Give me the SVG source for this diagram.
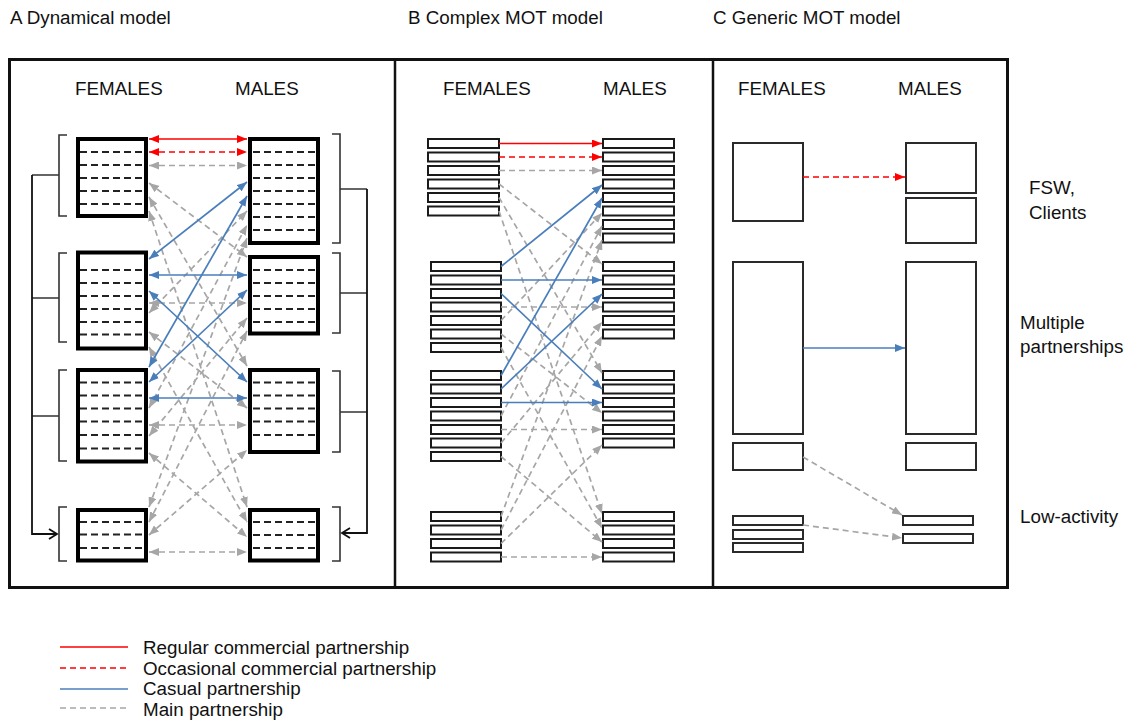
<svg xmlns="http://www.w3.org/2000/svg" width="1127" height="727" viewBox="0 0 1127 727">
<style>
text{font-family:"Liberation Sans",Arial,sans-serif;font-size:18.8px;fill:#111}
.frame{fill:none;stroke:#111;stroke-width:3}
.div{stroke:#111;stroke-width:2.5}
.boxA{fill:#fff;stroke:#000;stroke-width:4}
.dash{stroke:#222;stroke-width:2;stroke-dasharray:7 4}
.bar{fill:#fff;stroke:#1a1a1a;stroke-width:2}
.boxC{fill:#fff;stroke:#2a2a2a;stroke-width:2}
.brk{fill:none;stroke:#333;stroke-width:1.6}
.conn{fill:none;stroke:#111;stroke-width:1.8}
.red{stroke:#f00;stroke-width:1.6;fill:none}
.redd{stroke:#f00;stroke-width:1.6;stroke-dasharray:6 4;fill:none}
.blue{stroke:#4a7ebb;stroke-width:1.7;fill:none}
.gray{stroke:#a6a6a6;stroke-width:1.7;stroke-dasharray:6 4;fill:none}
.A .red,.A .redd{marker-start:url(#mr);marker-end:url(#mr)}
.A .blue{marker-start:url(#mb);marker-end:url(#mb)}
.A .gray{marker-start:url(#mg);marker-end:url(#mg)}
.B .red,.B .redd{marker-end:url(#mr)}
.B .blue{marker-end:url(#mb)}
.B .gray{marker-end:url(#mg)}
</style>
<defs>
<marker id="mr" viewBox="0 0 10 8" refX="10" refY="4" markerWidth="10" markerHeight="8" markerUnits="userSpaceOnUse" orient="auto-start-reverse"><path d="M0,0L10,4L0,8z" fill="#f00"/></marker>
<marker id="mb" viewBox="0 0 10 8" refX="10" refY="4" markerWidth="10" markerHeight="8" markerUnits="userSpaceOnUse" orient="auto-start-reverse"><path d="M0,0L10,4L0,8z" fill="#4a7ebb"/></marker>
<marker id="mg" viewBox="0 0 10 8" refX="10" refY="4" markerWidth="10" markerHeight="8" markerUnits="userSpaceOnUse" orient="auto-start-reverse"><path d="M0,0L10,4L0,8z" fill="#a6a6a6"/></marker>
</defs>
<rect width="1127" height="727" fill="#fff"/>

<g id="titles">
<text x="10" y="24">A Dynamical model</text>
<text x="408" y="24">B Complex MOT model</text>
<text x="713" y="24">C Generic MOT model</text>
</g>

<g id="frame">
<rect class="frame" x="9.5" y="59.5" width="998" height="528"/>
<line class="div" x1="395" y1="59" x2="395" y2="588"/>
<line class="div" x1="713" y1="59" x2="713" y2="588"/>
</g>

<g id="headers">
<text x="75" y="95">FEMALES</text><text x="235" y="95">MALES</text>
<text x="443" y="95">FEMALES</text><text x="603" y="95">MALES</text>
<text x="738" y="95">FEMALES</text><text x="898" y="95">MALES</text>
</g>

<!-- Panel A nodes -->
<g id="A-F1"><rect class="boxA" x="78" y="139" width="68" height="77"/>
<path class="dash" d="M80,152H142M80,165H142M80,178H142M80,191H142M80,204H142"/></g>
<g id="A-F2"><rect class="boxA" x="78" y="252.5" width="68" height="96"/>
<path class="dash" d="M80,270H142M80,283H142M80,296H142M80,309H142M80,322H142M80,334.5H142"/></g>
<g id="A-F3"><rect class="boxA" x="78" y="370" width="68" height="91.5"/>
<path class="dash" d="M80,382.5H142M80,395.5H142M80,408.5H142M80,421.5H142M80,435H142M80,448.5H142"/></g>
<g id="A-F4"><rect class="boxA" x="78" y="510" width="68" height="50.5"/>
<path class="dash" d="M80,522H142M80,534.5H142M80,548H142"/></g>
<g id="A-M1"><rect class="boxA" x="250" y="139" width="68" height="104"/>
<path class="dash" d="M253,152H315M253,165H315M253,178H315M253,191H315M253,204H315M253,217H315M253,230H315"/></g>
<g id="A-M2"><rect class="boxA" x="250" y="257" width="68" height="76.5"/>
<path class="dash" d="M253,270H315M253,283H315M253,296H315M253,309H315M253,322H315"/></g>
<g id="A-M3"><rect class="boxA" x="250" y="370" width="68" height="82"/>
<path class="dash" d="M253,382.5H315M253,395.5H315M253,408.5H315M253,421.5H315M253,435H315"/></g>
<g id="A-M4"><rect class="boxA" x="250" y="510" width="68" height="50.5"/>
<path class="dash" d="M253,522H315M253,535H315M253,548H315"/></g>

<g id="A-brackets">
<path class="brk" d="M67,135H59V216H67M59,175H32"/>
<path class="brk" d="M67,253H59V342H67M59,298H32"/>
<path class="brk" d="M67,370H59V461H67M59,416H32"/>
<path class="brk" d="M67,507H59V561H67"/>
<path class="conn" d="M32,175V534H57M49,529L57,534L49,539"/>
<path class="brk" d="M332,134H340V243H332M340,189H367"/>
<path class="brk" d="M332,253H340V333H332M340,293H367"/>
<path class="brk" d="M332,371H340V452H332M340,412H367"/>
<path class="brk" d="M332,507H340V561H332"/>
<path class="conn" d="M367,189V533H342M350,528L342,533L350,538"/>
</g>

<!-- Panel B nodes -->
<g id="B-F1">
<rect class="bar" x="428" y="139" width="71" height="9"/><rect class="bar" x="428" y="152.5" width="71" height="9"/><rect class="bar" x="428" y="166" width="71" height="9"/><rect class="bar" x="428" y="179.5" width="71" height="9"/><rect class="bar" x="428" y="193" width="71" height="9"/><rect class="bar" x="428" y="206.5" width="71" height="9"/>
</g>
<g id="B-F2">
<rect class="bar" x="431" y="262" width="70" height="9"/><rect class="bar" x="431" y="275.5" width="70" height="9"/><rect class="bar" x="431" y="289" width="70" height="9"/><rect class="bar" x="431" y="302.5" width="70" height="9"/><rect class="bar" x="431" y="316" width="70" height="9"/><rect class="bar" x="431" y="329.5" width="70" height="9"/><rect class="bar" x="431" y="343" width="70" height="9"/>
</g>
<g id="B-F3">
<rect class="bar" x="431" y="371" width="70" height="9"/><rect class="bar" x="431" y="384.5" width="70" height="9"/><rect class="bar" x="431" y="398" width="70" height="9"/><rect class="bar" x="431" y="411.5" width="70" height="9"/><rect class="bar" x="431" y="425" width="70" height="9"/><rect class="bar" x="431" y="438.5" width="70" height="9"/><rect class="bar" x="431" y="452" width="70" height="9"/>
</g>
<g id="B-F4">
<rect class="bar" x="431" y="512" width="70" height="9"/><rect class="bar" x="431" y="525.5" width="70" height="9"/><rect class="bar" x="431" y="539" width="70" height="9"/><rect class="bar" x="431" y="552.5" width="70" height="9"/>
</g>
<g id="B-M1">
<rect class="bar" x="603" y="139" width="71" height="9"/><rect class="bar" x="603" y="152.5" width="71" height="9"/><rect class="bar" x="603" y="166" width="71" height="9"/><rect class="bar" x="603" y="179.5" width="71" height="9"/><rect class="bar" x="603" y="193" width="71" height="9"/><rect class="bar" x="603" y="206.5" width="71" height="9"/><rect class="bar" x="603" y="220" width="71" height="9"/><rect class="bar" x="603" y="233.5" width="71" height="9"/>
</g>
<g id="B-M2">
<rect class="bar" x="603" y="262" width="71" height="9"/><rect class="bar" x="603" y="275.5" width="71" height="9"/><rect class="bar" x="603" y="289" width="71" height="9"/><rect class="bar" x="603" y="302.5" width="71" height="9"/><rect class="bar" x="603" y="316" width="71" height="9"/><rect class="bar" x="603" y="329.5" width="71" height="9"/>
</g>
<g id="B-M3">
<rect class="bar" x="603" y="371" width="71" height="9"/><rect class="bar" x="603" y="384.5" width="71" height="9"/><rect class="bar" x="603" y="398" width="71" height="9"/><rect class="bar" x="603" y="411.5" width="71" height="9"/><rect class="bar" x="603" y="425" width="71" height="9"/><rect class="bar" x="603" y="438.5" width="71" height="9"/>
</g>
<g id="B-M4">
<rect class="bar" x="603" y="512" width="71" height="9"/><rect class="bar" x="603" y="525.5" width="71" height="9"/><rect class="bar" x="603" y="539" width="71" height="9"/><rect class="bar" x="603" y="552.5" width="71" height="9"/>
</g>

<!-- Panel C nodes -->
<g id="C-F1"><rect class="boxC" x="733" y="143" width="70" height="78"/></g>
<g id="C-M1a"><rect class="boxC" x="906" y="143" width="70" height="50"/></g>
<g id="C-M1b"><rect class="boxC" x="906" y="198" width="70" height="45"/></g>
<g id="C-F2"><rect class="boxC" x="733" y="262" width="70" height="172"/></g>
<g id="C-M2"><rect class="boxC" x="906" y="262" width="70" height="172"/></g>
<g id="C-F3"><rect class="boxC" x="733" y="443" width="70" height="27"/></g>
<g id="C-M3"><rect class="boxC" x="906" y="443" width="70" height="27"/></g>
<g id="C-F4"><rect class="boxC" x="733" y="516" width="70" height="9"/><rect class="boxC" x="733" y="530" width="70" height="9"/><rect class="boxC" x="733" y="543" width="70" height="9"/></g>
<g id="C-M4"><rect class="boxC" x="903" y="516" width="70" height="9"/><rect class="boxC" x="903" y="534" width="70" height="9"/></g>

<g id="side-labels">
<text x="1029" y="194">FSW,</text>
<text x="1029" y="219">Clients</text>
<text x="1020" y="329">Multiple</text>
<text x="1020" y="353">partnerships</text>
<text x="1020" y="523">Low-activity</text>
</g>

<g id="connectors">
<g class="A">
<line class="gray" x1="149" y1="183" x2="247" y2="257"/>
<line class="gray" x1="149" y1="197" x2="247" y2="366"/>
<line class="gray" x1="149" y1="211" x2="247" y2="507"/>
<line class="gray" x1="149" y1="313" x2="247" y2="211"/>
<line class="gray" x1="149" y1="332" x2="247" y2="408"/>
<line class="gray" x1="149" y1="347" x2="247" y2="522"/>
<line class="gray" x1="149" y1="408" x2="247" y2="225"/>
<line class="gray" x1="149" y1="436" x2="247" y2="318"/>
<line class="gray" x1="149" y1="453" x2="247" y2="537"/>
<line class="gray" x1="149" y1="507" x2="247" y2="238"/>
<line class="gray" x1="149" y1="522" x2="247" y2="331"/>
<line class="gray" x1="149" y1="535" x2="247" y2="450"/>
<line class="gray" x1="149" y1="165.5" x2="247" y2="165.5"/>
<line class="gray" x1="149" y1="303" x2="247" y2="303"/>
<line class="gray" x1="149" y1="425" x2="247" y2="425"/>
<line class="gray" x1="149" y1="552" x2="247" y2="552"/>
<line class="red" x1="149" y1="139" x2="247" y2="139"/>
<line class="redd" x1="149" y1="152" x2="247" y2="152"/>
<line class="blue" x1="149" y1="259" x2="247" y2="182"/>
<line class="blue" x1="149" y1="275" x2="247" y2="275"/>
<line class="blue" x1="149" y1="291" x2="247" y2="382"/>
<line class="blue" x1="149" y1="367" x2="247" y2="196"/>
<line class="blue" x1="149" y1="382" x2="247" y2="290"/>
<line class="blue" x1="149" y1="398" x2="247" y2="398"/>
</g>
<g class="B">
<line class="gray" x1="499" y1="184" x2="602" y2="264"/>
<line class="gray" x1="499" y1="197.5" x2="602" y2="373"/>
<line class="gray" x1="499" y1="211" x2="602" y2="514"/>
<line class="gray" x1="501" y1="320.5" x2="602" y2="213"/>
<line class="gray" x1="501" y1="334" x2="602" y2="413"/>
<line class="gray" x1="501" y1="347.5" x2="602" y2="528"/>
<line class="gray" x1="501" y1="416" x2="602" y2="226"/>
<line class="gray" x1="501" y1="443" x2="602" y2="322"/>
<line class="gray" x1="501" y1="456.5" x2="602" y2="542"/>
<line class="gray" x1="501" y1="516.5" x2="602" y2="240"/>
<line class="gray" x1="501" y1="530" x2="602" y2="336"/>
<line class="gray" x1="501" y1="543.5" x2="602" y2="445"/>
<line class="gray" x1="499" y1="170.5" x2="602" y2="170.5"/>
<line class="gray" x1="501" y1="307" x2="602" y2="307"/>
<line class="gray" x1="501" y1="429.5" x2="602" y2="429.5"/>
<line class="gray" x1="501" y1="557" x2="602" y2="557"/>
<line class="red" x1="499" y1="143.5" x2="602" y2="143.5"/>
<line class="redd" x1="499" y1="157" x2="602" y2="157"/>
<line class="blue" x1="501" y1="266.5" x2="602" y2="185"/>
<line class="blue" x1="501" y1="280" x2="602" y2="280"/>
<line class="blue" x1="501" y1="293.5" x2="602" y2="389"/>
<line class="blue" x1="501" y1="375.5" x2="602" y2="198"/>
<line class="blue" x1="501" y1="389" x2="602" y2="294"/>
<line class="blue" x1="501" y1="402.5" x2="602" y2="402.5"/>
</g>
<g class="B">
<line class="redd" x1="803" y1="177" x2="905" y2="177"/>
<line class="blue" x1="803" y1="348" x2="905" y2="348"/>
<line class="gray" x1="803" y1="457" x2="902" y2="515"/>
<line class="gray" x1="803" y1="525" x2="902" y2="538"/>
</g>
</g>

<g id="legend">
<line class="red" x1="60" y1="647" x2="128" y2="647"/>
<line class="redd" x1="60" y1="668" x2="128" y2="668"/>
<line class="blue" x1="60" y1="689" x2="128" y2="689"/>
<line class="gray" x1="60" y1="708" x2="128" y2="708"/>
<text x="143" y="654">Regular commercial partnership</text>
<text x="143" y="675">Occasional commercial partnership</text>
<text x="143" y="695">Casual partnership</text>
<text x="143" y="716">Main partnership</text>
</g>
</svg>
